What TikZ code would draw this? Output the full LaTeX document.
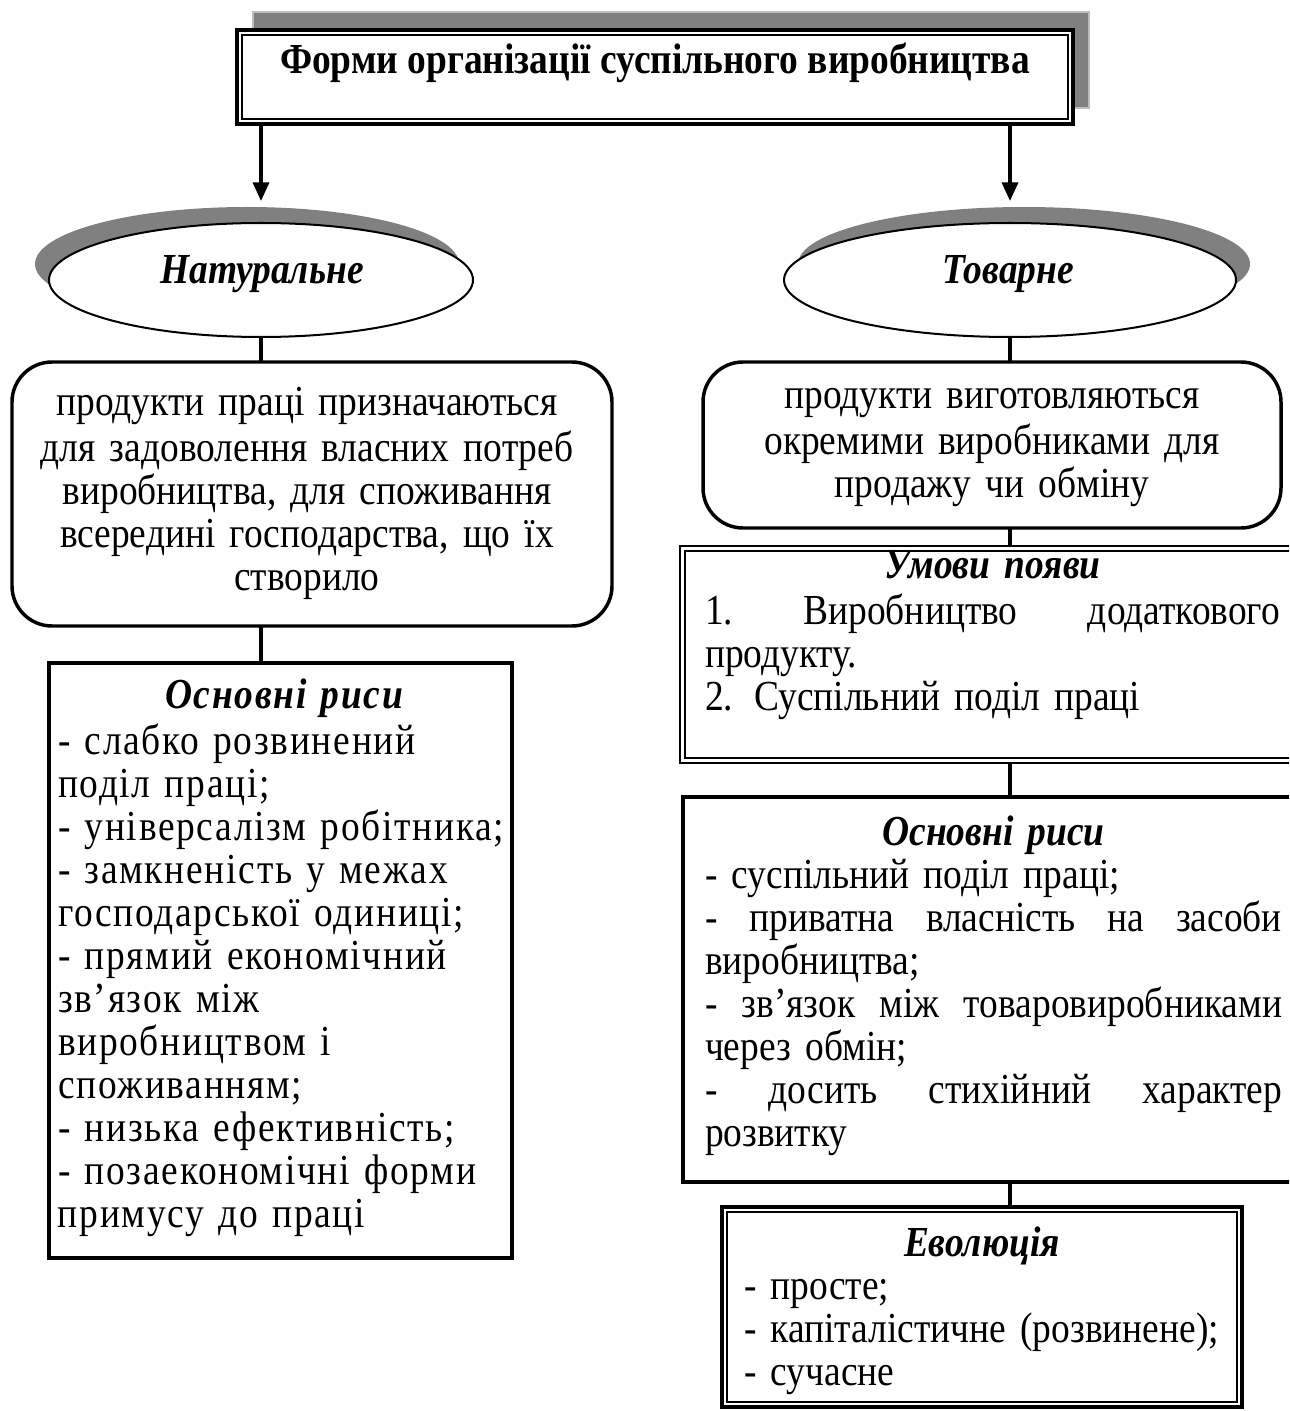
\documentclass[tikz,border=0pt]{standalone}
\usepackage{fontspec}
\setmainfont{Liberation Serif}[FakeStretch=0.875]
\newfontfamily\spacedfont{Liberation Serif}[FakeStretch=0.875,LetterSpace=4]
\usetikzlibrary{shapes.geometric,arrows.meta,calc}
\newlength\PX \setlength\PX{0.374pt}
\definecolor{shd}{RGB}{128,128,128}
\begin{document}
\begin{tikzpicture}[x=0.374pt,y=-0.374pt,
  font=\fontsize{16pt}{16.1pt}\selectfont,
  conn/.style={line width=1.3pt},
  arr/.style={line width=1.3pt,-{Triangle[length=7pt,width=6pt]}},
  txt/.style={inner sep=0pt,outer sep=0pt},
  boxa/.style={draw,inner sep=0pt,outer sep=0pt,anchor=north west},
  ell/.style={ellipse,inner sep=0pt,outer sep=0pt,minimum width=#1},
  ell/.default={424\PX}]
\path[use as bounding box] (0,0) rectangle (1289,1411);
\begin{scope}
\clip (0,0) rectangle (1289,1411);
% ---------- title ----------
\fill[shd,draw=shd!50] (253,12) rectangle (1089,108);
\node[boxa,line width=1.4pt,fill=white,minimum width=836\PX,minimum height=94\PX] (title) at (237,30) {};
\draw[line width=0.4pt] ($(title.north west)+(5,5)$) rectangle ($(title.south east)+(-5,-5)$);
\node[txt,anchor=base] (ttitle) at (655,74) {\bfseries Форми організації суспільного виробництва};
% ---------- ellipses ----------
\node[ell,fill=shd,minimum height=114\PX] (lsh) at (247,264) {};
\node[ell,draw,fill=white,line width=0.75pt,minimum height=114\PX] (lell) at (261,280) {};
\node[txt,anchor=base] (tnat) at (262,284) {\bfseries\itshape Натуральне};
\node[ell=452\PX,fill=shd,minimum height=114\PX] (rsh) at (1024,264) {};
\node[ell=452\PX,draw,fill=white,line width=0.75pt,minimum height=114\PX] (rell) at (1010,280) {};
\node[txt,anchor=base] (ttov) at (1008,284) {\bfseries\itshape Товарне};
% ---------- arrows ----------
\coordinate (ltip) at (261,201);
\coordinate (rtip) at (1010,201);
\draw[arr] (title.south -| ltip) -- (ltip);
\draw[arr] (title.south -| rtip) -- (rtip);
% ---------- left column ----------
\node[boxa,rounded corners=15pt,line width=1.3pt,minimum width=600\PX,minimum height=264\PX] (lround) at (12,362) {};
\node[txt,anchor=north,text width=600\PX,align=center] (tlround) at (307,385)
  {\strut продукти праці призначаються\\ для задоволення власних потреб\\ виробництва, для споживання\\ всередині господарства, що їх\\ створило};
\node[boxa,line width=1.3pt,minimum width=463\PX,minimum height=595\PX] (losn) at (49,663) {};
\node[txt,anchor=north west,text width=452\PX,font=\fontsize{16pt}{16.1pt}\spacedfont] (tlosn) at (58,678)
  {{\centering\strut\bfseries\itshape Основні риси\par}%
   - слабко розвинений\\ поділ праці;\\ - універсалізм робітника;\\ - замкненість у межах\\
   господарської одиниці;\\ - прямий економічний\\ зв’язок між\\ виробництвом і\\ споживанням;\\
   - низька ефективність;\\ - позаекономічні форми\\ примусу до праці};
% ---------- right column ----------
\node[boxa,rounded corners=15pt,line width=1.3pt,minimum width=578\PX,minimum height=166\PX] (rround) at (703,362) {};
\node[txt,anchor=north,text width=578\PX,align=center] (trround) at (992,378)
  {\strut продукти виготовляються\\ окремими виробниками для\\ продажу чи обміну};
\node[boxa,line width=0.4pt,minimum width=640\PX,minimum height=217\PX] (umovy) at (680,546) {};
\draw[line width=1.1pt] ($(umovy.north west)+(5,5)$) rectangle ($(umovy.south east)+(-5,-5)$);
\node[txt,anchor=north west,text width=575\PX] (tumovy) at (705,548)
  {{\centering\strut\bfseries\itshape Умови появи\par}%
   1.\hfill Виробництво\hfill додаткового\\ продукту.\\ 2. Суспільний поділ праці};
\node[boxa,line width=1.3pt,minimum width=640\PX,minimum height=385\PX] (rosn) at (683,797) {};
\node[txt,anchor=north west,text width=577\PX] (trosn) at (705,815)
  {{\centering\strut\bfseries\itshape Основні риси\par}%
   - суспільний поділ праці;\\
   -\hfill приватна\hfill власність\hfill на\hfill засоби\\
   виробництва;\\
   -\hfill зв’язок\hfill між\hfill товаровиробниками\\
   через обмін;\\
   -\hfill досить\hfill стихійний\hfill характер\\
   розвитку};
\node[boxa,line width=1.2pt,minimum width=520\PX,minimum height=200\PX] (evo) at (722,1207) {};
\draw[line width=0.4pt] ($(evo.north west)+(5,5)$) rectangle ($(evo.south east)+(-5,-5)$);
\node[txt,anchor=north west,text width=476\PX] (tevo) at (744,1226)
  {{\centering\strut\bfseries\itshape Еволюція\par}%
   - просте;\\ - капіталістичне (розвинене);\\ - сучасне};
% ---------- connectors ----------
\draw[conn] (lell.south) -- (lell.south |- lround.north);
\draw[conn] (lround.south -| lell.south) -- (losn.north -| lell.south);
\draw[conn] (rell.south) -- (rell.south |- rround.north);
\draw[conn] (rround.south -| rell.south) -- (umovy.north -| rell.south);
\draw[conn] (umovy.south -| rell.south) -- (rosn.north -| rell.south);
\draw[conn] (rosn.south -| rell.south) -- (evo.north -| rell.south);
\end{scope}
\end{tikzpicture}
\end{document}
